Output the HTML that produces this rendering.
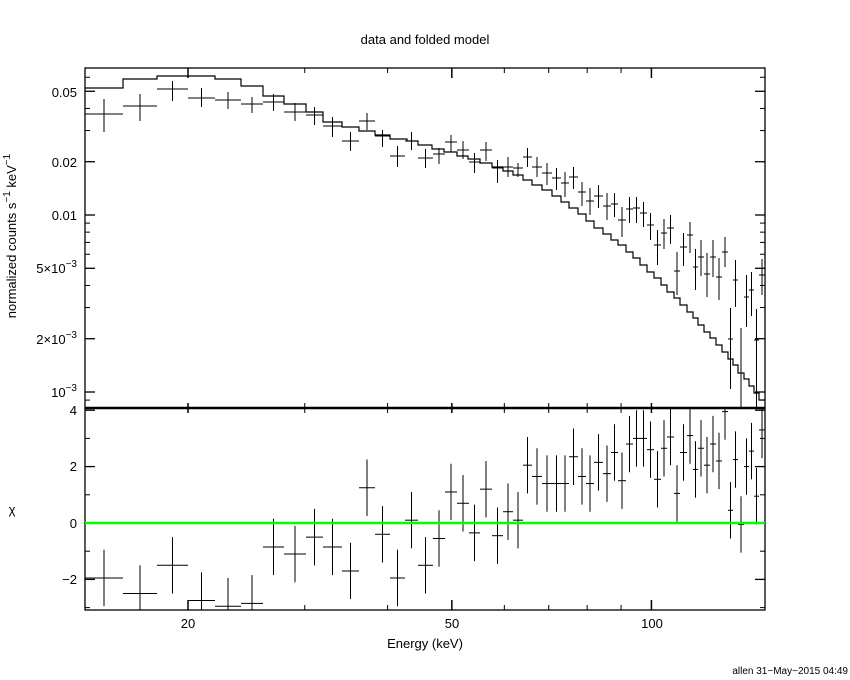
<!DOCTYPE html>
<html><head><meta charset="utf-8"><style>
html,body{margin:0;padding:0;background:#fff;}
svg{display:block;font-family:"Liberation Sans",sans-serif;}
</style></head><body>
<svg id="s" width="850" height="680" xmlns="http://www.w3.org/2000/svg">
<rect width="850" height="680" fill="#fff"/>
<text x="425" y="44" font-size="13" text-anchor="middle">data and folded model</text>
<g font-size="13" text-anchor="end">
<text x="77" y="97">0.05</text>
<text x="77" y="167">0.02</text>
<text x="77" y="220">0.01</text>
<text x="77" y="273">5×10<tspan dy="-6" font-size="10">−3</tspan></text>
<text x="77" y="344">2×10<tspan dy="-6" font-size="10">−3</tspan></text>
<text x="77" y="397">10<tspan dy="-6" font-size="10">−3</tspan></text>
<text x="77" y="415">4</text>
<text x="77" y="471">2</text>
<text x="77" y="528">0</text>
<text x="77" y="584">−2</text>
</g>
<g font-size="13" text-anchor="middle">
<text x="188" y="628">20</text>
<text x="452" y="628">50</text>
<text x="652" y="628">100</text>
<text x="425" y="648">Energy (keV)</text>
</g>
<text transform="translate(16,236) rotate(-90)" font-size="13" text-anchor="middle">normalized counts s<tspan dy="-6" font-size="10">−1</tspan><tspan dy="6"> keV</tspan><tspan dy="-6" font-size="10">−1</tspan></text>
<text x="12" y="514" font-size="13" text-anchor="middle">χ</text>
<text x="848" y="674" font-size="10" text-anchor="end">allen 31−May−2015 04:49</text>
<g id="g" fill="none" stroke="#000"></g>
</svg>
<script>
var g=document.getElementById('g'),o='';
function L(x1,y1,x2,y2,w,c){o+='<line x1="'+x1+'" y1="'+y1+'" x2="'+x2+'" y2="'+y2+'" stroke-width="'+(w||1)+'"'+(c?' stroke="'+c+'"':'')+'/>';}
o+='<rect x="85" y="68" width="680" height="542" stroke-width="1.3"/>';
L(85,408,765,408,2.5);
function X(E){return 188+663*Math.log10(E/20);}
var maj=[20,50,100],mn=[30,40,60,70,80,90];
maj.forEach(function(E){var x=X(E);L(x,68,x,78,1.5);L(x,403,x,413,1.5);L(x,610,x,600,1.5);});
mn.forEach(function(E){var x=X(E);L(x,68,x,73);L(x,408,x,403);L(x,408,x,413);L(x,610,x,605);});
function Y(v){return 215-177*(Math.log10(v)+2);}
[0.05,0.02,0.01,0.005,0.002,0.001].forEach(function(v){var y=Y(v);L(85,y,95,y,1.3);L(765,y,755,y,1.3);});
[0.06,0.04,0.03,0.009,0.008,0.007,0.006,0.004,0.003,0.0009].forEach(function(v){var y=Y(v);L(85,y,90,y);L(765,y,760,y);});
function R(c){return 523-28.2*c;}
[4,2,0,-2].forEach(function(c){var y=R(c);L(85,y,95,y,1.3);L(765,y,755,y,1.3);});
[3,1,-1,-3].forEach(function(c){var y=R(c);L(85,y,90,y);L(765,y,760,y);});
var m=[[85,123,88],[123,157,79],[157,215,76],[215,241,79],[241,263,86],[263,284,96],[284,306,104],[306,323,112],[323,342,122],[342,359,127],[359,375,131],[375,390,135],[390,407,139],[407,418,141],[418,432,145],[432,444,149],[444,457,152],[457,468,156],[468,480,159],[480,492,163],[492,503,167],[503,513,171],[513,523,175],[523,532,180],[532,542,185],[542,552,190],[552,561,196],[561,569,202],[569,578,208],[578,586,214],[586,594,221],[594,603,228],[603,611,234],[611,618,240],[618,626,245],[626,633,252],[633,640,258],[640,647,265],[647,654,272],[654,661,278],[661,667,285],[667,674,292],[674,680,298],[680,687,305],[687,693,312],[693,698,318],[698,704,325],[704,710,332],[710,716,338],[716,722,345],[722,728,352],[728,733,359],[733,738,365],[738,744,373],[744,749,379],[749,754,386],[754,759,393],[759,765,400]];
var p='M'+m[0][0]+' '+m[0][2];m.forEach(function(s){p+=' L'+s[0]+' '+s[2]+' L'+s[1]+' '+s[2];});
o+='<path d="'+p+'" stroke-width="1.2"/>';
var d=[[85,123,114,99,132,-1.95],[123,157,106,94,121,-2.5],[157,188,89,81,101,-1.5],[188,215,98,88,107,-2.75],[215,241,100,92,109,-2.95],[241,263,104,97,113,-2.85],[263,284,102,94,111,-0.85],[284,306,112,103,121,-1.1],[306,323,115,107,125,-0.5],[323,342,126,117,137,-0.85],[342,359,141,132,151,-1.7],[359,375,121,113,130,1.25],[375,390,136,130,147,-0.4],[390,405,156,146,167,-1.95],[405,418,141,132,150,0.1],[418,433,158,149,168,-1.5],[433,445,154,148,164,-0.55],[445,457,142,135,152,1.1],[457,469,150,141,159,0.7],[469,480,162,153,173,-0.35],[480,492,150,142,161,1.2],[492,503,168,160,183,-0.45],[503,513,167,157,177,0.4],[513,523,168,163,177,0.1],[523,532,157,148,167,2.05],[532,542,167,157,177,1.65],[542,552,173,163,185,1.4],[552,561,178,168,190,1.4],[561,569,183,172,197,1.4],[569,578,177,167,189,2.35],[578,586,192,182,206,1.65],[586,594,201,188,215,1.4],[594,603,196,185,208,2.15],[603,611,206,193,220,1.75],[611,618,204,193,217,2.5],[618,626,220,207,237,1.5],[626,633,209,197,223,2.8],[633,640,208,197,223,3.0],[640,647,213,202,227,3.0],[647,654,225,213,240,2.6],[654,661,245,230,265,1.55],[661,667,233,219,249,2.65],[667,674,228,215,244,3.05],[674,680,271,252,295,1.05],[680,687,247,233,266,2.5],[687,693,235,222,253,3.1],[693,698,267,249,290,1.9],[698,704,257,240,276,2.65],[704,710,274,253,297,2.05],[710,716,257,240,277,2.8],[716,722,277,258,300,2.2],[722,728,252,237,267,3.95],[728,733,339,308,389,0.45],[733,738,280,260,307,2.25],[738,744,373,328,408,-0.05],[744,749,297,275,327,2.0],[749,754,290,272,316,2.55],[754,759,340,309,408,0.95],[759,765,275,259,295,3.3]];
d.forEach(function(a){var c=(a[0]+a[1])/2;L(a[0],a[2],a[1],a[2]);L(c,a[3],c,a[4]);
var y=R(a[5]),y1=Math.max(409,R(a[5]+1)),y2=Math.min(610,R(a[5]-1));
if(y>409&&y<610)L(a[0],y,a[1],y);L(c,y1,c,y2);});
L(85,523,765,523,2.5,'#00ff00');
g.innerHTML=o;
</script>
</body></html>
